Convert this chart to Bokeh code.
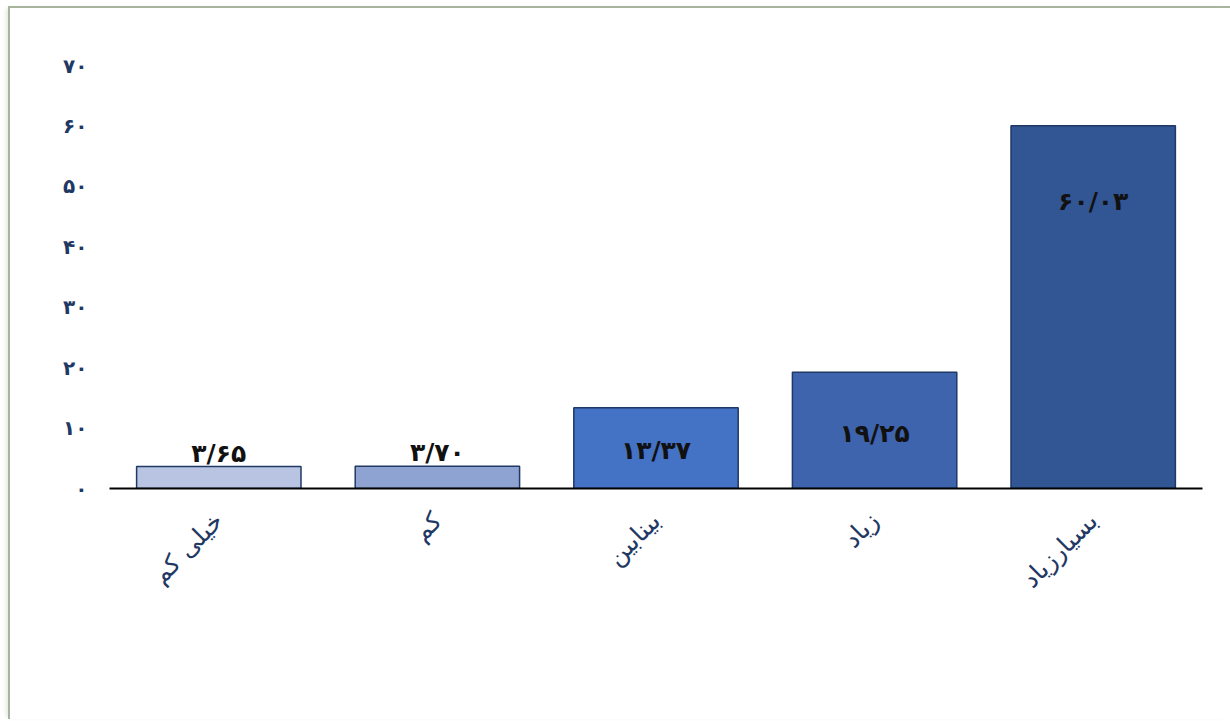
from bokeh.plotting import figure
from bokeh.models import ColumnDataSource, FactorRange, Range1d, FixedTicker
from bokeh.core.properties import value
from bokeh.embed import file_html
from bokeh.resources import INLINE
import math

# ---- data ----
categories = ["خیلی کم", "کم", "بینابین", "زیاد", "بسیارزیاد"]
values = [3.65, 3.70, 13.37, 19.25, 60.03]
value_labels = ["۳/۶۵", "۳/۷۰", "۱۳/۳۷", "۱۹/۲۵", "۶۰/۰۳"]
y_ticks = [0, 10, 20, 30, 40, 50, 60, 70]
y_tick_labels = ["۰", "۱۰", "۲۰", "۳۰", "۴۰", "۵۰", "۶۰", "۷۰"]

# ---- styles ----
bar_colors = ["#b8c4e2", "#8fa3d3", "#4472c4", "#3d64ac", "#325594"]
label_offsets = [-13, -14, 43, 61, 76]  # screen px from bar top
navy = "#1f3864"

source = ColumnDataSource(dict(
    cat=categories, val=values, lab=value_labels,
    color=bar_colors, off=label_offsets,
))

p = figure(
    x_range=FactorRange(*categories, range_padding=0),
    y_range=Range1d(0, 70),
    width=1222, height=713,
    output_backend="svg", toolbar_location=None,
    min_border_left=99, min_border_right=30,
    min_border_top=57, min_border_bottom=233,
)
p.styles = {
    "margin-left": "8px",
    "margin-top": "6px",
    "border-top": "2px solid #a8b59c",
    "border-left": "2px solid #a8b59c",
    "box-shadow": "-4px 0px 4px -2px rgba(0,0,0,0.10)",
}

p.vbar(x="cat", top="val", width=0.752, source=source,
       fill_color="color", line_color=navy, line_width=1.5)

p.text(x="cat", y="val", text="lab", y_offset="off", source=source,
       text_font=value("DejaVu Sans"), text_font_size="25px",
       text_font_style="bold", text_color="#111111",
       text_align="center", text_baseline="middle")

p.xgrid.visible = False
p.ygrid.visible = False
p.outline_line_color = None

xa = p.xaxis[0]
xa.axis_line_color = "black"
xa.axis_line_width = 2
xa.major_tick_line_color = None
xa.minor_tick_line_color = None
xa.major_label_orientation = math.pi / 4
xa.major_label_text_color = navy
xa.major_label_text_font = "DejaVu Sans"
xa.major_label_text_font_size = "25px"
xa.major_label_standoff = 22

ya = p.yaxis[0]
ya.ticker = FixedTicker(ticks=y_ticks)
ya.major_label_overrides = {t: l for t, l in zip(y_ticks, y_tick_labels)}
ya.axis_line_color = None
ya.major_tick_line_color = None
ya.minor_tick_line_color = None
ya.major_label_text_color = navy
ya.major_label_text_font = "DejaVu Sans"
ya.major_label_text_font_style = "bold"
ya.major_label_text_font_size = "20px"
ya.major_label_standoff = 16

open("out.html", "w").write(file_html(p, INLINE))
